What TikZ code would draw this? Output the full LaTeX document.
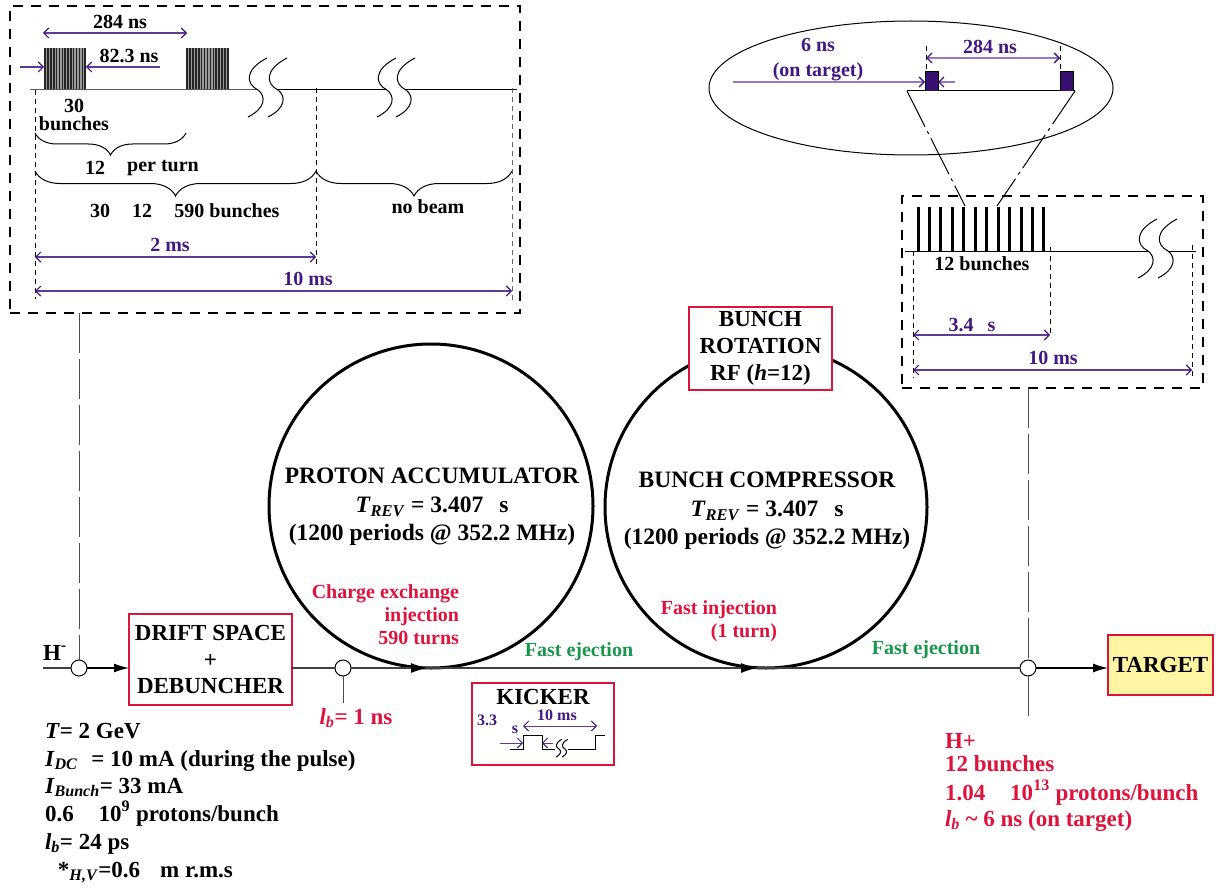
\documentclass[tikz,border=0pt]{standalone}
\usepackage{fontspec}
\setmainfont{Liberation Serif}
\usetikzlibrary{arrows.meta,decorations.pathreplacing,shapes.geometric}
\definecolor{cred}{RGB}{220,20,60}
\definecolor{cgreen}{RGB}{25,150,75}
\definecolor{cpurp}{RGB}{65,25,130}
\definecolor{clpurp}{RGB}{150,120,195}
\definecolor{cfill}{RGB}{55,15,110}
\definecolor{cyel}{RGB}{255,245,165}
\newcommand\fs[2]{\fontsize{#1}{#2}\selectfont\bfseries}
\newcommand\sbs[1]{\textsubscript{#1}}
\tikzset{brk/.pic={\draw[line width=1pt] (9,-32) .. controls (-14,-20) and (-12,-6) .. (0,0) .. controls (8,6) and (8,18) .. (-10,27);}}
\begin{document}
\begin{tikzpicture}[x=1pt,y=-1pt,
  every node/.style={inner sep=0pt, outer sep=0pt},
  thinln/.style={line width=1pt},
  beam/.style={line width=1.2pt, black!75},
  dimarr/.style={cpurp!85, line width=1.1pt, {Straight Barb[length=5pt,width=10pt,color=cpurp]}-{Straight Barb[length=5pt,width=10pt,color=cpurp]}},
  onearr/.style={cpurp!85, line width=1.1pt, -{Straight Barb[length=5pt,width=10pt,color=cpurp]}},
  redbox/.style={draw=cred, line width=2.5pt, fill=white, align=center},
  ring/.style={circle, draw, line width=3pt},
  junc/.style={circle, draw, line width=1pt, fill=white, minimum size=16pt},
  dbox/.style={dash pattern=on 10pt off 8pt, line width=1.5pt},
  vdash/.style={dash pattern=on 5pt off 4pt, line width=0.9pt},
  ldash/.style={dash pattern=on 40pt off 6pt, line width=1pt, black!70},
  ddot/.style={dash pattern=on 40pt off 5pt on 3pt off 5pt, line width=1pt},
  lbl/.style={font=\fs{20}{24}},
  plbl/.style={font=\fs{20}{24.5}, text=cpurp, align=center},
  rlbl/.style={font=\fs{20}{23}, text=cred, align=right},
  glbl/.style={font=\fs{20}{24}, text=cgreen},
  txt/.style={font=\fs{23}{28}, anchor=base west},
  rtxt/.style={font=\fs{23}{28}, anchor=base west, text=cred},
  brc/.style={decorate, decoration={brace, mirror, amplitude=#1}, line width=1pt},
  tipL/.style={-{Latex[length=15pt,width=9pt]}},
]
\useasboundingbox (0,0) rectangle (1218,888);

% ---------------- top-left timing box ----------------
\node[draw, dbox, minimum width=510pt, minimum height=307pt] (tlbox) at (265,159.5) {};
\fill[black!40] (44,48) rectangle (86,90);
\foreach \i in {0,...,14} \draw[line width=1.5pt, black!85] ({45.2+\i*2.85},48) -- ({45.2+\i*2.85},90);
\fill[black!40] (186,48) rectangle (229,90);
\foreach \i in {0,...,14} \draw[line width=1.5pt, black!85] ({187.2+\i*2.9},48) -- ({187.2+\i*2.9},90);
\draw[thinln, black!65] (30,90) -- (258,90);
\draw[thinln] (278,90) -- (387,90);
\draw[thinln] (406,90) -- (517,90);
\pic at (258,90) {brk}; \pic at (278,90) {brk};
\pic at (387,90) {brk}; \pic at (406,90) {brk};
\draw[dimarr] (43,33) -- (187,33);
\node[lbl] at (120,22) {284 ns};
\draw[onearr] (20,67) -- (44,67);
\draw[onearr] (160,67) -- (86,67);
\node[lbl] at (129,56) {82.3 ns};
\node[lbl, align=center, font=\fs{20}{18}] at (74,115) {30\\bunches};
\draw[vdash] (35,90) -- (35,299);
\draw[vdash] (316,88) -- (316,266);
\draw[vdash, black!60] (512,88) -- (512,304);
\draw[brc=22pt] (35,133) -- (186,133);
\node[lbl] at (95,168) {12};
\node[lbl] at (163,168) {per turn};
\draw[brc=25pt] (35,171) -- (316,171);
\draw[brc=25pt] (316,171) -- (512,171);
\node[lbl] at (100,211) {30};
\node[lbl] at (142,211) {12};
\node[lbl] at (227,211) {590 bunches};
\node[lbl] at (428,207) {no beam};
\draw[dimarr] (35,257) -- (316,257);
\node[plbl] at (170,245) {2 ms};
\draw[dimarr] (35,291) -- (512,291);
\node[plbl] at (308,279) {10 ms};

% ---------------- top-right ellipse ----------------
\node[ellipse, draw, thinln, minimum width=404pt, minimum height=134pt] (ell) at (911,88) {};
\coordinate (eL) at (907,91);
\coordinate (eR) at (1075,91);
\draw[thinln] (eL) -- (eR);
\fill[cfill] (925,72) rectangle (938,91);
\draw[thinln] (925,91) -- (925,72) -- (938,72) -- (938,91);
\fill[cfill] (1060,72) rectangle (1073,91);
\draw[thinln] (1060,91) -- (1060,72) -- (1073,72) -- (1073,91);
\draw[vdash] (926,46) -- (926,72);
\draw[vdash] (1060,46) -- (1060,72);
\draw[clpurp, line width=1.3pt, {Straight Barb[length=5pt,width=10pt,color=cpurp]}-{Straight Barb[length=5pt,width=10pt,color=cpurp]}] (926,58) -- (1060,58);
\node[plbl] at (990,47) {284 ns};
\draw[clpurp, line width=1.3pt, -{Straight Barb[length=5pt,width=10pt,color=cpurp]}] (733,82) -- (925,82);
\draw[clpurp, line width=1.3pt, -{Straight Barb[length=5pt,width=10pt,color=cpurp]}] (955,82) -- (938,82);
\node[plbl] at (818,59.5) {6 ns\\(on target)};

% ---------------- top-right timing box ----------------
\node[draw, dbox, minimum width=301pt, minimum height=192pt] (trbox) at (1052.5,292) {};
\coordinate (bL) at (965,206);
\coordinate (bR) at (997,206);
\draw[ddot] (eL) -- (bL);
\draw[ddot] (eR) -- (bR);
\foreach \i in {0,...,11} \draw[line width=3pt] ({918+\i*11.45},207) -- ({918+\i*11.45},251);
\draw[thinln] (905,251) -- (1148,251);
\draw[thinln] (1168,251) -- (1196,251);
\pic at (1148,251) {brk}; \pic at (1168,251) {brk};
\node[lbl] at (982,264) {12 bunches};
\draw[vdash] (913,251) -- (913,378);
\draw[vdash] (1050,247) -- (1050,337);
\draw[vdash] (1192,245) -- (1192,378);
\draw[dimarr] (913,335) -- (1050,335);
\node[plbl] at (972,325) {3.4\hspace{14pt}s};
\draw[dimarr] (913,370) -- (1192,370);
\node[plbl] at (1053,358) {10 ms};

% ---------------- rings ----------------
\node[ring, minimum size=324pt] (acc) at (431,506) {};
\node[font=\fs{23.5}{28.5}, align=center] at (432,507) {PROTON ACCUMULATOR\\\textit{T}\sbs{\textit{REV}} = 3.407\hspace{16pt}s\\(1200 periods @ 352.2 MHz)};
\node[ring, minimum size=322pt] (comp) at (766,507) {};
\node[font=\fs{23.5}{28.5}, align=center] at (767,511) {BUNCH COMPRESSOR\\\textit{T}\sbs{\textit{REV}} = 3.407\hspace{16pt}s\\(1200 periods @ 352.2 MHz)};
\node[redbox, font=\fs{23}{27}, minimum width=143pt, minimum height=83pt] (rot) at (760.5,348.5) {BUNCH\\ROTATION\\RF (\textit{h}=12)};
\node[rlbl, anchor=east] at (459,615) {Charge exchange\\injection\\590 turns};
\node[rlbl, anchor=east] at (777,621.5) {Fast injection\\(1 turn)};

% ---------------- beam line ----------------
\node[junc] (j1) at (79,668) {};
\node[junc] (j2) at (343,668) {};
\node[junc] (j3) at (1028,668) {};
\node[redbox, font=\fs{23}{26.5}, minimum width=163pt, minimum height=91pt] (drift) at (210.5,659.5) {DRIFT SPACE\\+\\DEBUNCHER};
\node[redbox, draw=cred, fill=cyel, font=\fs{23}{27}, minimum width=105pt, minimum height=60pt] (target) at (1160.5,665) {TARGET};
\coordinate (hstart) at (43,668);
\draw[beam] (hstart) -- (j1);
\draw[beam, tipL, black] (j1) -- (j1 -| drift.west);
\draw[beam] (drift.east |- j2) -- (j2);
\draw[beam] (j2) -- (acc.south);
\draw[beam] (acc.south) -- (comp.south);
\draw[beam] (comp.south) -- (j3);
\draw[beam, tipL, black] (j3) -- (j3 -| target.west);
\draw[line width=1pt, -{Latex[length=16pt,width=10pt]}] ([xshift=-20pt]acc.south) -- ([xshift=-4pt]acc.south);
\draw[line width=1pt, -{Latex[length=16pt,width=10pt]}] ([xshift=-25pt]comp.south) -- ([xshift=-9pt]comp.south);
\draw[ldash] (tlbox.south -| j1) -- (j1);
\draw[ldash] (trbox.south -| j3) -- (j3);
\coordinate (j3end) at (1028,720);
\draw[ldash] (j3) -- (j3end);
\coordinate (j2end) at (343,703);
\draw[thinln, black!70] (j2) -- (j2end);
\node[txt] at (43,660) {H\textsuperscript{-}};
\node[font=\fs{23}{28}, text=cred] at (356,718) {\textit{l}\sbs{\textit{b}}= 1 ns};
\node[glbl] at (579,652) {Fast ejection};
\node[glbl] at (926,650) {Fast ejection};

% ---------------- kicker ----------------
\node[redbox, minimum width=142pt, minimum height=82pt] (kick) at (543,724) {};
\node[font=\fs{23}{27}] at (543,697) {KICKER};
\draw[dimarr, line width=1pt] (523,726) -- (597,726);
\node[font=\fs{16}{18}, text=cpurp] at (557,715) {10 ms};
\node[font=\fs{16}{18}, text=cpurp] at (487,720) {3.3};
\node[font=\fs{16}{18}, text=cpurp] at (515,730) {s};
\draw[thinln] (510,749) -- (523,749) -- (523,735) -- (542,735) -- (542,749) -- (555,749);
\draw[thinln] (568,749) -- (595,749) -- (595,735) -- (605,735);
\pic[scale=0.3] at (559,749) {brk}; \pic[scale=0.3] at (565,749) {brk};
\draw[onearr, line width=1pt] (500,743) -- (523,743);
\draw[onearr, line width=1pt] (553,743) -- (542,743);

% ---------------- parameter texts ----------------
\node[txt] at (45,738) {\textit{T}= 2 GeV};
\node[txt] at (45,766) {\textit{I}\sbs{\textit{DC}}\hspace{8pt} = 10 mA (during the pulse)};
\node[txt] at (45,793) {\textit{I}\sbs{\textit{Bunch}}= 33 mA};
\node[txt] at (45,821) {0.6\hspace{25pt}10\textsuperscript{9} protons/bunch};
\node[txt] at (45,849) {\textit{l}\sbs{\textit{b}}= 24 ps};
\node[txt] at (45,877) {\hspace{13pt}*\sbs{\textit{H,V}}=0.6\hspace{20pt}m r.m.s};
\node[rtxt] at (945,748) {H+};
\node[rtxt] at (945,771) {12 bunches};
\node[rtxt] at (945,800) {1.04\hspace{25pt}10\textsuperscript{13} protons/bunch};
\node[rtxt] at (945,826) {\textit{l}\sbs{\textit{b}} \textasciitilde{} 6 ns (on target)};
\end{tikzpicture}
\end{document}
